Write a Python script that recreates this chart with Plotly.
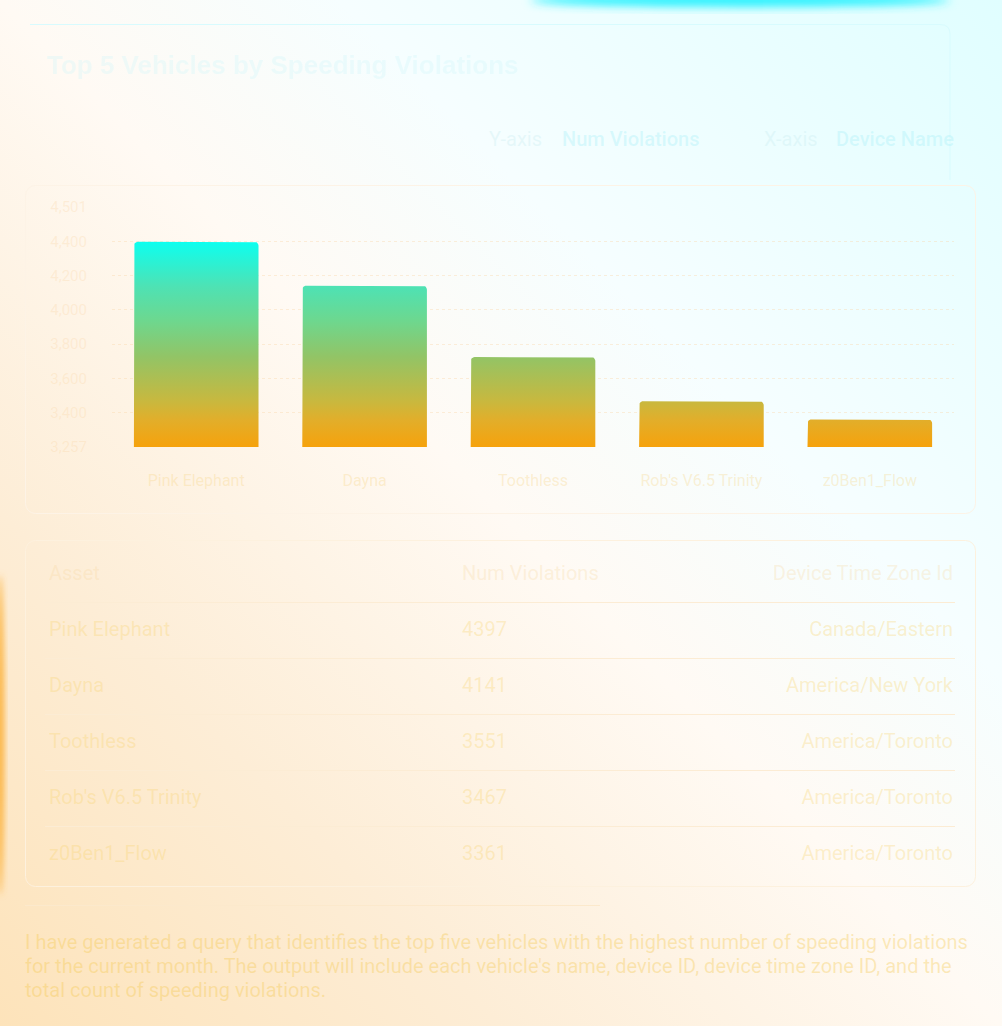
import base64
import math
import plotly.graph_objects as go

# values
devices = ["Pink Elephant", "Dayna", "Toothless", "Rob's V6.5 Trinity", "z0Ben1_Flow"]
bar_violations = [4397, 4141, 3725, 3467, 3361]
table_violations = [4397, 4141, 3551, 3467, 3361]
time_zones = ["Canada/Eastern", "America/New York", "America/Toronto",
              "America/Toronto", "America/Toronto"]
table_header = ["Asset", "Num Violations", "Device Time Zone Id"]

y_tick_vals = [3200, 3400, 3600, 3800, 4000, 4200, 4400, 4600]
y_tick_text = ["3,257", "3,400", "3,600", "3,800", "4,000", "4,200", "4,400", "4,501"]

title = "Top 5 Vehicles by Speeding Violations"
note_lines = [
    "I have generated a query that identifies the top five vehicles with the highest number of speeding violations",
    "for the current month. The output will include each vehicle's name, device ID, device time zone ID, and the",
    "total count of speeding violations.",
]

W, H = 1002, 1026
PLOT_L, PLOT_R, PLOT_T, PLOT_B = 112, 954, 207, 447


def px(x):
    return x / W


def py(y):
    return 1 - y / H


# background: soft cyan / peach wash with faint panels
svg = f"""<svg xmlns='http://www.w3.org/2000/svg' width='{W}' height='{H}' viewBox='0 0 {W} {H}' preserveAspectRatio='none'>
<defs>
<linearGradient id='bg' x1='1' y1='0' x2='0' y2='1'>
<stop offset='0' stop-color='#e0feff'/>
<stop offset='0.33' stop-color='#f6feff'/>
<stop offset='0.5' stop-color='#fffaf4'/>
<stop offset='0.75' stop-color='#fdedd6'/>
<stop offset='1' stop-color='#fde3ba'/>
</linearGradient>
<filter id='blur' x='-50%' y='-50%' width='200%' height='200%'><feGaussianBlur stdDeviation='5'/></filter>
<filter id='blur2' x='-50%' y='-50%' width='200%' height='200%'><feGaussianBlur stdDeviation='3'/></filter>
</defs>
<rect width='{W}' height='{H}' fill='url(#bg)'/>
<ellipse cx='740' cy='0' rx='210' ry='7' fill='#2cf2ff' filter='url(#blur)'/>
<ellipse cx='0' cy='735' rx='4' ry='160' fill='#fbb23e' filter='url(#blur2)'/>
<path d='M30 24.5 H940 Q950 24.5 950 34 V180' fill='none' stroke='#d8fbfe' stroke-width='1'/>
<rect x='25.5' y='185.5' width='950' height='328' rx='10' fill='none' stroke='#fdf3e6' stroke-width='1'/>
<rect x='25.5' y='540.5' width='950' height='346' rx='10' fill='none' stroke='#fdf1de' stroke-width='1'/>
<g stroke='#fcecd4' stroke-width='1'>
<line x1='45' y1='602.5' x2='955' y2='602.5'/>
<line x1='45' y1='658.5' x2='955' y2='658.5'/>
<line x1='45' y1='714.5' x2='955' y2='714.5'/>
<line x1='45' y1='770.5' x2='955' y2='770.5'/>
<line x1='45' y1='826.5' x2='955' y2='826.5'/>
</g>
<line x1='25' y1='905.5' x2='600' y2='905.5' stroke='#fce9cc' stroke-width='1'/>
</svg>"""
bg_uri = "data:image/svg+xml;base64," + base64.b64encode(svg.encode()).decode()

# bars as filled polygons so they can carry a vertical gradient,
# with small rounded top corners (radius given in pixels)
bar_w = 0.74
base = y_tick_vals[0]
x_per_px = len(devices) / (PLOT_R - PLOT_L)
y_per_px = (y_tick_vals[-1] - y_tick_vals[0]) / (PLOT_B - PLOT_T)
rad = 4
rx, ry = rad * x_per_px, rad * y_per_px
xs, ys = [], []
for i, v in enumerate(bar_violations):
    x0, x1 = i - bar_w / 2, i + bar_w / 2
    xs += [x0]
    ys += [base]
    for k in range(7):
        a = math.pi - k * math.pi / 12
        xs.append(x0 + rx + rx * math.cos(a))
        ys.append(v - ry + ry * math.sin(a))
    for k in range(7):
        a = math.pi / 2 - k * math.pi / 12
        xs.append(x1 - rx + rx * math.cos(a))
        ys.append(v - ry + ry * math.sin(a))
    xs += [x1, x0, None]
    ys += [base, base, None]

fig = go.Figure()
fig.add_trace(go.Scatter(
    x=xs, y=ys, mode="lines", fill="toself",
    line=dict(width=0),
    fillgradient=dict(
        type="vertical", start=base, stop=4400,
        colorscale=[[0, "#f6a20c"], [0.13, "#e2ae2a"], [0.22, "#c9b83e"],
                    [0.44, "#92c466"], [0.62, "#6cd890"], [0.78, "#4ee2b4"],
                    [1, "#0cfff0"]],
    ),
    hoverinfo="skip", showlegend=False,
))

fig.add_trace(go.Table(
    domain=dict(x=[px(41), px(961)], y=[py(904), py(557)]),
    columnwidth=[413, 245, 262],
    header=dict(
        values=table_header,
        align=["left", "left", "right"],
        height=56,
        fill_color="rgba(0,0,0,0)",
        line_color="rgba(0,0,0,0)",
        font=dict(family="Roboto", size=20, color="rgba(246,215,160,0.3)"),
    ),
    cells=dict(
        values=[devices, table_violations, time_zones],
        align=["left", "left", "right"],
        height=56,
        fill_color="rgba(0,0,0,0)",
        line_color="rgba(0,0,0,0)",
        font=dict(family="Roboto", size=20, color="rgba(248,212,110,0.32)"),
    ),
))

label_font = dict(family="Roboto", size=20, color="rgba(200,236,240,0.35)")
value_font = dict(family="Roboto", size=20, weight=500, color="rgba(170,240,248,0.38)")
annotations = [
    dict(text="Y-axis", x=px(487), y=py(139), font=label_font),
    dict(text="Num Violations", x=px(560), y=py(139), font=value_font),
    dict(text="X-axis", x=px(762), y=py(139), font=label_font),
    dict(text="Device Name", x=px(834), y=py(139), font=value_font),
]
for k, line in enumerate(note_lines):
    annotations.append(dict(text=line, x=px(23), y=py(942 + 24 * k),
                            font=dict(family="Roboto", size=20, color="rgba(244,198,70,0.34)")))
for a in annotations:
    a.update(xref="paper", yref="paper", xanchor="left", yanchor="middle", showarrow=False)

fig.update_layout(
    width=W, height=H,
    margin=dict(l=0, r=0, t=0, b=0, autoexpand=False),
    showlegend=False,
    paper_bgcolor="white",
    plot_bgcolor="rgba(0,0,0,0)",
    title=dict(text=title, x=px(47), y=py(65), xanchor="left", yanchor="middle",
               xref="container", yref="container",
               font=dict(family="Liberation Sans", size=26, weight="bold",
                         color="rgba(205,246,250,0.3)")),
    images=[dict(source=bg_uri, xref="paper", yref="paper", x=0, y=1,
                 sizex=1, sizey=1, sizing="stretch", layer="below")],
    xaxis=dict(
        domain=[px(PLOT_L), px(PLOT_R)],
        range=[-0.5, len(devices) - 0.5],
        tickvals=list(range(len(devices))), ticktext=devices,
        showgrid=False, zeroline=False, showline=False, ticks="",
        ticklabelstandoff=22,
        tickfont=dict(family="Roboto", size=16, color="rgba(246,208,120,0.3)"),
        fixedrange=True,
    ),
    yaxis=dict(
        domain=[py(PLOT_B), py(PLOT_T)],
        range=[y_tick_vals[0], y_tick_vals[-1]],
        tickvals=y_tick_vals, ticktext=y_tick_text,
        showgrid=True, gridcolor="rgba(250,214,170,0.4)", griddash="dot", gridwidth=1,
        zeroline=False, showline=False, ticks="",
        ticklabelstandoff=24,
        tickfont=dict(family="Roboto", size=15, color="rgba(250,210,160,0.28)"),
        fixedrange=True,
    ),
    annotations=annotations,
)

fig.write_html("out.html", config={"displayModeBar": False},
               post_script="document.body.style.margin='0';")
